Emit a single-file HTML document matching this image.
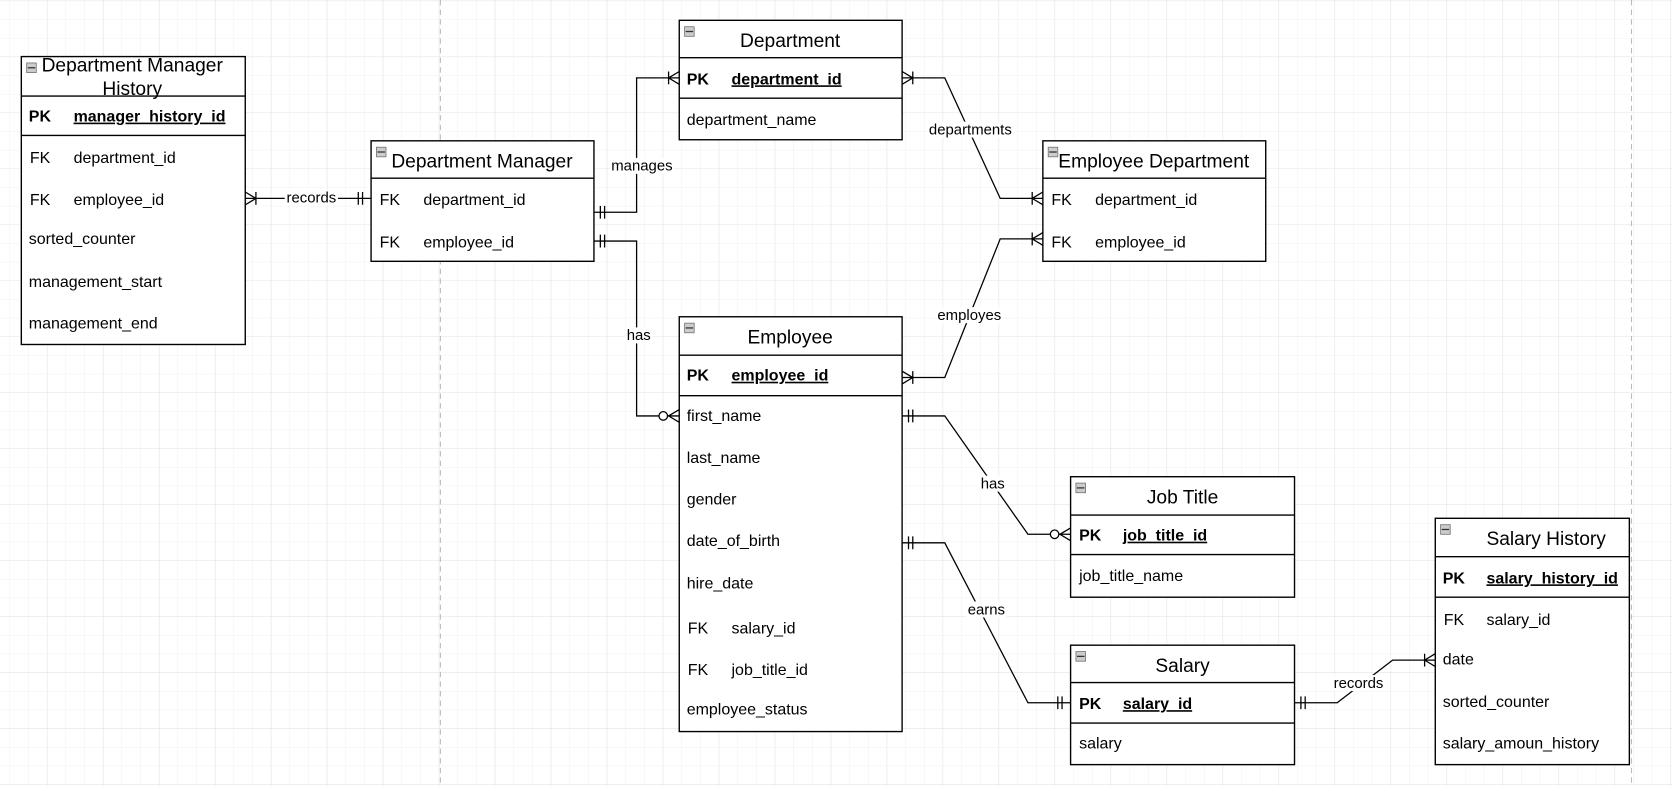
<!DOCTYPE html>
<html><head><meta charset="utf-8"><style>
html,body{margin:0;padding:0;background:#fff;}
svg{display:block;}
text{font-family:"Liberation Sans",Helvetica,Arial,sans-serif;fill:#000;}
.r{font-size:15px;}
.t{font-size:18px;}
.b{font-weight:bold;}
.l{font-size:14px;}
</style></head><body>
<svg width="1672" height="786" viewBox="0 0 1568 737" xmlns="http://www.w3.org/2000/svg">
<defs>
<pattern id="gm" x="44" y="0.5" width="17.5" height="17.5" patternUnits="userSpaceOnUse">
<path d="M0 0H17.5M0 0V17.5" stroke="#f0f0f0" stroke-width="1" fill="none"/>
</pattern>
<pattern id="gM" x="44" y="0.5" width="52.5" height="52.5" patternUnits="userSpaceOnUse">
<path d="M0 0H52.5M0 0V52.5" stroke="#e4e4e4" stroke-width="1" fill="none"/>
</pattern>
</defs>
<rect width="1568" height="737" fill="#fff"/>
<rect width="1568" height="737" fill="url(#gm)"/>
<rect width="1568" height="737" fill="url(#gM)"/>
<line x1="413" y1="0" x2="413" y2="737" stroke="#bbb" stroke-dasharray="5,4"/>
<line x1="1530" y1="0" x2="1530" y2="737" stroke="#bbb" stroke-dasharray="5,4"/>

<g fill="#fff" stroke="#000" stroke-width="1.3">
<!-- DMH -->
<rect x="20" y="53" width="210" height="270"/>
<line x1="20" y1="90" x2="230" y2="90"/><line x1="20" y1="127" x2="230" y2="127"/>
<!-- DM -->
<rect x="348" y="132" width="209" height="113"/>
<line x1="348" y1="167" x2="557" y2="167"/>
<!-- Department -->
<rect x="637" y="19" width="209" height="112"/>
<line x1="637" y1="54" x2="846" y2="54"/><line x1="637" y1="92" x2="846" y2="92"/>
<!-- Emp Dept -->
<rect x="978" y="132" width="209" height="113"/>
<line x1="978" y1="167" x2="1187" y2="167"/>
<!-- Employee -->
<rect x="637" y="297" width="209" height="389"/>
<line x1="637" y1="333" x2="846" y2="333"/><line x1="637" y1="371" x2="846" y2="371"/>
<!-- Job Title -->
<rect x="1004" y="447" width="210" height="113"/>
<line x1="1004" y1="483" x2="1214" y2="483"/><line x1="1004" y1="520" x2="1214" y2="520"/>
<!-- Salary -->
<rect x="1004" y="605" width="210" height="112"/>
<line x1="1004" y1="640" x2="1214" y2="640"/><line x1="1004" y1="678" x2="1214" y2="678"/>
<!-- Salary History -->
<rect x="1346" y="486" width="182" height="231"/>
<line x1="1346" y1="522" x2="1528" y2="522"/><line x1="1346" y1="560" x2="1528" y2="560"/>
</g>
<!-- collapse icons -->
<g fill="#ccc" stroke="#777" stroke-width="0.8">
<rect x="25" y="59" width="9" height="9"/><rect x="353" y="138" width="9" height="9"/>
<rect x="642" y="25" width="9" height="9"/><rect x="983" y="138" width="9" height="9"/>
<rect x="642" y="303" width="9" height="9"/><rect x="1009" y="453" width="9" height="9"/>
<rect x="1009" y="611" width="9" height="9"/><rect x="1351" y="492" width="9" height="9"/>
</g>
<g stroke="#333" stroke-width="1.2">
<line x1="26" y1="63.5" x2="33" y2="63.5"/><line x1="354" y1="142.5" x2="361" y2="142.5"/>
<line x1="643" y1="29.5" x2="650" y2="29.5"/><line x1="984" y1="142.5" x2="991" y2="142.5"/>
<line x1="643" y1="307.5" x2="650" y2="307.5"/><line x1="1010" y1="457.5" x2="1017" y2="457.5"/>
<line x1="1010" y1="615.5" x2="1017" y2="615.5"/><line x1="1352" y1="496.5" x2="1359" y2="496.5"/>
</g>

<!-- titles -->
<g class="t" text-anchor="middle">
<text x="124" y="67">Department Manager</text><text x="124" y="89">History</text>
<text x="452" y="157">Department Manager</text>
<text x="741" y="44">Department</text>
<text x="1082" y="157">Employee Department</text>
<text x="741" y="322">Employee</text>
<text x="1109" y="472">Job Title</text>
<text x="1109" y="630">Salary</text>
<text x="1450" y="511">Salary History</text>
</g>
<!-- rows -->
<g class="r">
<text x="27" y="114" class="b">PK</text><text x="69" y="114" class="b" text-decoration="underline">manager_history_id</text>
<text x="28" y="153">FK</text><text x="69" y="153">department_id</text>
<text x="28" y="192">FK</text><text x="69" y="192">employee_id</text>
<text x="27" y="229">sorted_counter</text>
<text x="27" y="269">management_start</text>
<text x="27" y="308">management_end</text>

<text x="356" y="192">FK</text><text x="397" y="192">department_id</text>
<text x="356" y="232">FK</text><text x="397" y="232">employee_id</text>

<text x="644" y="79" class="b">PK</text><text x="686" y="79" class="b" text-decoration="underline">department_id</text>
<text x="644" y="117">department_name</text>

<text x="986" y="192">FK</text><text x="1027" y="192">department_id</text>
<text x="986" y="232">FK</text><text x="1027" y="232">employee_id</text>

<text x="644" y="357" class="b">PK</text><text x="686" y="357" class="b" text-decoration="underline">employee_id</text>
<text x="644" y="395">first_name</text>
<text x="644" y="434">last_name</text>
<text x="644" y="473">gender</text>
<text x="644" y="512">date_of_birth</text>
<text x="644" y="552">hire_date</text>
<text x="645" y="594">FK</text><text x="686" y="594">salary_id</text>
<text x="645" y="633">FK</text><text x="686" y="633">job_title_id</text>
<text x="644" y="670">employee_status</text>

<text x="1012" y="507" class="b">PK</text><text x="1053" y="507" class="b" text-decoration="underline">job_title_id</text>
<text x="1012" y="545">job_title_name</text>

<text x="1012" y="665" class="b">PK</text><text x="1053" y="665" class="b" text-decoration="underline">salary_id</text>
<text x="1012" y="702">salary</text>

<text x="1353" y="547" class="b">PK</text><text x="1394" y="547" class="b" text-decoration="underline">salary_history_id</text>
<text x="1354" y="586">FK</text><text x="1394" y="586">salary_id</text>
<text x="1353" y="623">date</text>
<text x="1353" y="663">sorted_counter</text>
<text x="1353" y="702">salary_amoun_history</text>
</g>

<!-- connectors -->
<g stroke="#000" stroke-width="1.2" fill="none">
<path d="M230 186H348"/>
<path d="M230 180L240 186L230 192M240 180V192"/>
<path d="M336 180V192M340 180V192"/>

<path d="M557 199H597V73H637"/>
<path d="M563 193V205M567 193V205"/>
<path d="M637 67L627 73L637 79M627 67V79"/>

<path d="M557 226H597V390H637"/>
<path d="M563 220V232M567 220V232"/>
<path d="M637 384L627 390L637 396"/>
<circle cx="622" cy="390" r="4" fill="#fff"/>

<path d="M846 73H886L938 186H978"/>
<path d="M846 67L856 73L846 79M856 67V79"/>
<path d="M978 180L968 186L978 192M968 180V192"/>

<path d="M846 354H886L938 224H978"/>
<path d="M846 348L856 354L846 360M856 348V360"/>
<path d="M978 218L968 224L978 230M968 218V230"/>

<path d="M846 390H886L964 501H1004"/>
<path d="M852 384V396M856 384V396"/>
<path d="M1004 495L994 501L1004 507"/>
<circle cx="989" cy="501" r="4" fill="#fff"/>

<path d="M846 509H886L964 659H1004"/>
<path d="M852 503V515M856 503V515"/>
<path d="M992 653V665M996 653V665"/>

<path d="M1214 659H1254L1306 619H1346"/>
<path d="M1220 653V665M1224 653V665"/>
<path d="M1346 613L1336 619L1346 625M1336 613V625"/>
</g>
<!-- labels -->
<g class="l" text-anchor="middle">
<rect x="267" y="178" width="50" height="15" fill="#fff"/><text x="292" y="190">records</text>
<rect x="572" y="148" width="60" height="15" fill="#fff"/><text x="602" y="160">manages</text>
<rect x="586" y="307" width="26" height="15" fill="#fff"/><text x="599" y="319">has</text>
<rect x="870" y="114" width="80" height="15" fill="#fff"/><text x="910" y="126">departments</text>
<rect x="878" y="288" width="62" height="15" fill="#fff"/><text x="909" y="300">employes</text>
<rect x="918" y="446" width="26" height="15" fill="#fff"/><text x="931" y="458">has</text>
<rect x="906" y="564" width="38" height="15" fill="#fff"/><text x="925" y="576">earns</text>
<rect x="1249" y="633" width="50" height="15" fill="#fff"/><text x="1274" y="645">records</text>
</g>
</svg>
</body></html>
